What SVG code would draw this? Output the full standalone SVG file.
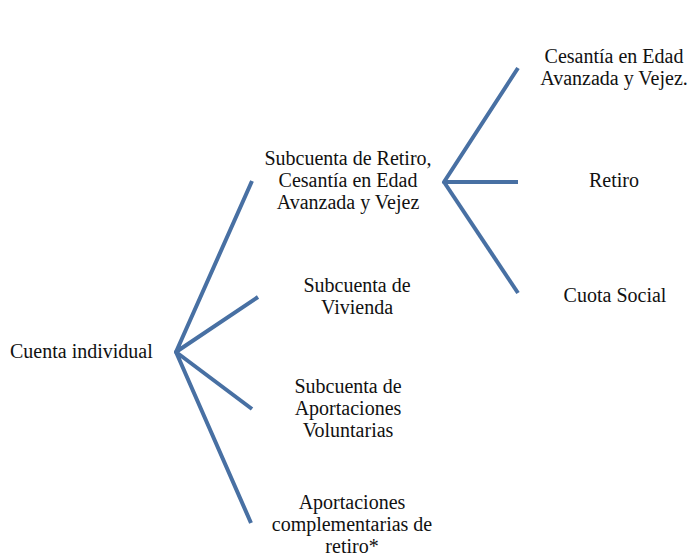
<svg xmlns="http://www.w3.org/2000/svg" width="693" height="556" viewBox="0 0 693 556">
<style>
text{font-family:"Liberation Serif","Times New Roman",serif;font-size:20px;fill:#111;}
.c{text-anchor:middle;}
.ln{stroke:#4870a3;stroke-width:4;fill:none;stroke-linecap:butt;stroke-linejoin:round;}
</style>
<rect width="693" height="556" fill="#fff"/>
<g id="connectors">
<path class="ln" d="M252,181 L176,352 L258,297"/>
<path class="ln" d="M252,409 L176,352 L251,523"/>
<path class="ln" d="M518,68 L444,182 L518,182"/>
<path class="ln" d="M444,182 L518,293"/>
</g>
<g id="n-cuenta"><text x="10" y="358">Cuenta individual</text></g>
<g id="n-rcv"><text class="c" x="348" y="165">Subcuenta de Retiro,</text><text class="c" x="348" y="187">Cesantía en Edad</text><text class="c" x="348" y="209">Avanzada y Vejez</text></g>
<g id="n-vivienda"><text class="c" x="357" y="292">Subcuenta de</text><text class="c" x="357" y="314">Vivienda</text></g>
<g id="n-voluntarias"><text class="c" x="348" y="393">Subcuenta de</text><text class="c" x="348" y="415">Aportaciones</text><text class="c" x="348" y="437">Voluntarias</text></g>
<g id="n-complementarias"><text class="c" x="352" y="509">Aportaciones</text><text class="c" x="352" y="531">complementarias de</text><text class="c" x="352" y="553">retiro*</text></g>
<g id="n-cesantia"><text class="c" x="614" y="63">Cesantía en Edad</text><text class="c" x="614" y="85">Avanzada y Vejez.</text></g>
<g id="n-retiro"><text class="c" x="614" y="187">Retiro</text></g>
<g id="n-cuota"><text class="c" x="615" y="302">Cuota Social</text></g>
</svg>
